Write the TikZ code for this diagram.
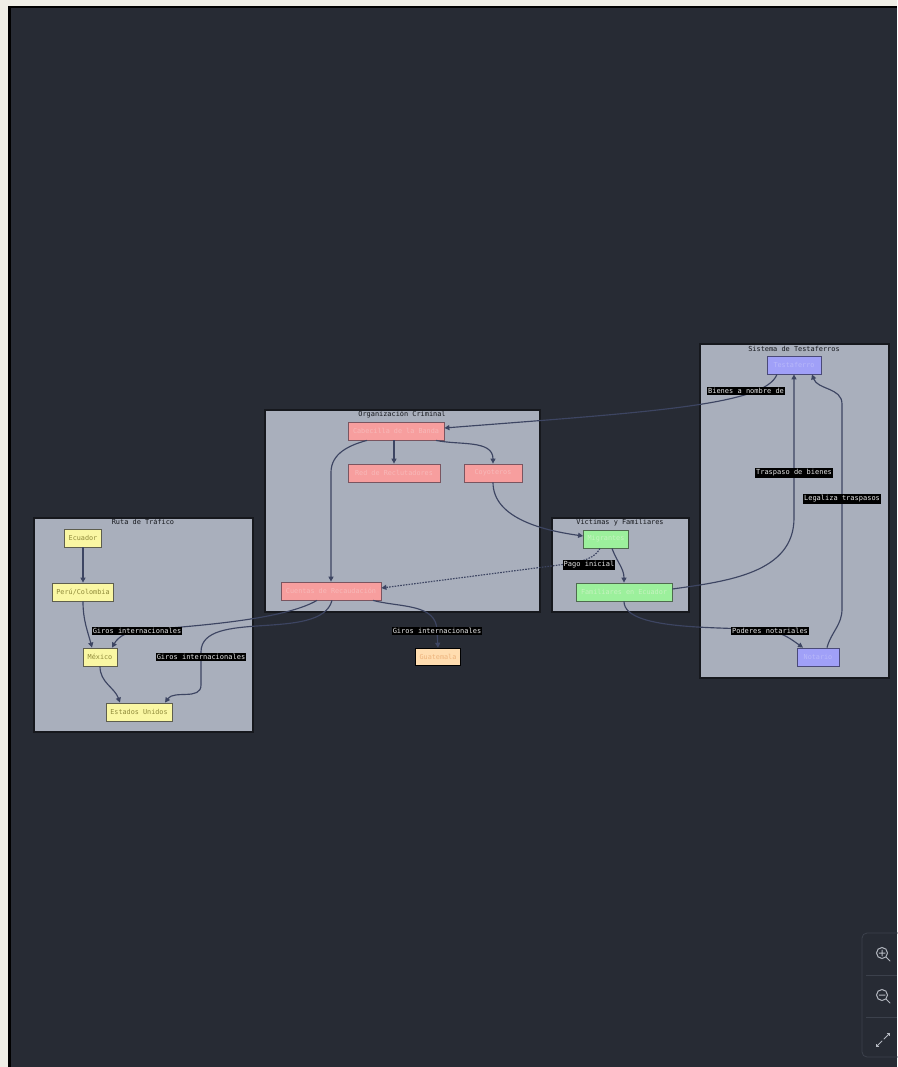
\documentclass[tikz,border=0pt]{standalone}
\usepackage{fontspec}
\setmonofont{DejaVu Sans Mono}
\usetikzlibrary{arrows.meta, positioning}
\definecolor{page-cream}{HTML}{EFEEE6}
\definecolor{canvas-bg}{HTML}{272B34}
\definecolor{cluster-fill}{HTML}{A9AFBC}
\definecolor{cluster-border}{HTML}{16181D}
\definecolor{crim-fill}{HTML}{F79E9E}
\definecolor{crim-border}{HTML}{7A5560}
\definecolor{crim-text}{HTML}{F8B9B9}
\definecolor{ruta-fill}{HTML}{FAF7A3}
\definecolor{ruta-border}{HTML}{5E5E4E}
\definecolor{ruta-text}{HTML}{8F8A3A}
\definecolor{vict-fill}{HTML}{9CF09C}
\definecolor{vict-border}{HTML}{4E6A4E}
\definecolor{vict-text}{HTML}{C6F3C0}
\definecolor{test-fill}{HTML}{A0A0F8}
\definecolor{test-border}{HTML}{4A4A78}
\definecolor{test-text}{HTML}{B8B8FA}
\definecolor{dest-fill}{HTML}{FFDDB0}
\definecolor{dest-text}{HTML}{EDB37C}
\definecolor{edge}{HTML}{3D4562}
\definecolor{label-text}{HTML}{E6E6E6}
\definecolor{ui-line}{HTML}{3C414C}
\definecolor{ui-icon}{HTML}{B4B8C0}
\tikzset{
  base-node/.style={
    rectangle, inner sep=0pt, minimum height=18pt, line width=0.8pt,
    font=\fontsize{6.8}{7}\ttfamily
  },
  crim-node/.style={base-node, draw=crim-border, fill=crim-fill, text=crim-text},
  ruta-node/.style={base-node, draw=ruta-border, fill=ruta-fill, text=ruta-text},
  vict-node/.style={base-node, draw=vict-border, fill=vict-fill, text=vict-text},
  test-node/.style={base-node, draw=test-border, fill=test-fill, text=test-text},
  dest-node/.style={base-node, draw=black, line width=1.4pt, fill=dest-fill, text=dest-text},
  cluster-box/.style={draw=cluster-border, fill=cluster-fill, line width=1.6pt},
  cluster-title/.style={font=\fontsize{6.9}{7}\ttfamily, text=cluster-border, inner sep=0pt},
  flow-edge/.style={-{Triangle[length=5pt, width=5pt]}, line width=1.15pt, draw=edge},
  flow-dashed/.style={flow-edge, dash pattern=on 1.6pt off 1.2pt},
  edge-label/.style={fill=black, text=label-text, inner xsep=1pt, inner ysep=1.2pt,
    font=\fontsize{7}{7}\ttfamily},
  ui-stroke/.style={draw=ui-icon, line width=1pt, line cap=round}
}
\begin{document}
\begin{tikzpicture}[x=1pt, y=1pt]
  % frame and canvas
  \fill[page-cream] (0,0) rectangle (897,-1067);
  \fill[black] (8,-6) rectangle (897,-1067);
  \fill[canvas-bg] (11,-8) rectangle (897,-1067);
  \useasboundingbox (0,0) rectangle (897,-1067);

  % subgraphs
  \draw[cluster-box] (265,-410) rectangle (540,-612);
  \node[cluster-title] at (402,-414) {Organización Criminal};
  \draw[cluster-box] (34,-518) rectangle (253,-732);
  \node[cluster-title] at (143,-522) {Ruta de Tráfico};
  \draw[cluster-box] (552,-518) rectangle (689,-612);
  \node[cluster-title] at (620,-522) {Víctimas y Familiares};
  \draw[cluster-box] (700,-344) rectangle (889,-678);
  \node[cluster-title] at (794,-349) {Sistema de Testaferros};

  % nodes
  \node[crim-node, minimum width=96pt]  (lider)   at (396,-431) {Cabecilla de la Banda};
  \node[crim-node, minimum width=92pt]  (red)     at (394,-473) {Red de Reclutadores};
  \node[crim-node, minimum width=58pt]  (coyo)    at (493,-473) {Coyoteros};
  \node[crim-node, minimum width=100pt] (cuentas) at (331,-591) {Cuentas de Recaudación};

  \node[ruta-node, minimum width=37pt] (ecuador) at (83,-538)  {Ecuador};
  \node[ruta-node, minimum width=61pt] (peru)    at (83,-592)  {Perú/Colombia};
  \node[ruta-node, minimum width=34pt] (mexico)  at (100,-657) {México};
  \node[ruta-node, minimum width=66pt] (eeuu)    at (139,-712) {Estados Unidos};

  \node[vict-node, minimum width=45pt] (migr)  at (606,-539) {Migrantes};
  \node[vict-node, minimum width=96pt] (fam)   at (624,-592) {Familiares en Ecuador};

  \node[test-node, minimum width=54pt] (testa) at (794,-365) {Testaferro};
  \node[test-node, minimum width=42pt] (notar) at (818,-657) {Notario};

  \node[dest-node, minimum width=45pt, minimum height=17pt] (guate) at (438,-657) {Guatemala};

  % label anchors
  \coordinate (bienes)   at (746,-391);
  \coordinate (traspaso) at (794,-473);
  \coordinate (legaliza) at (842,-499);
  \coordinate (poderes)  at (770,-631);
  \coordinate (pago)     at (589,-565);
  \coordinate (girosMx)  at (137,-631);
  \coordinate (girosUs)  at (201,-657);
  \coordinate (girosGt)  at (437,-631);

  % edges
  \draw[flow-edge] ([xshift=-2pt]lider.south) -- (red.north);
  \draw[flow-edge] ([xshift=40pt]lider.south) to[out=-12, in=90] (coyo.north);
  \draw[flow-edge] ([xshift=-29pt]lider.south) to[out=195, in=90]
    ([yshift=-32pt]cuentas.north |- lider.south) -- (cuentas.north);
  \draw[flow-edge] (coyo.south) to[out=-90, in=172, looseness=0.9] ([yshift=3pt]migr.west);
  \draw[flow-dashed] ([xshift=-6pt]migr.south) to[out=-115, in=8, looseness=0.8] ([xshift=-30pt]pago)
    -- ([yshift=3pt]cuentas.east);
  \draw[flow-edge] ([xshift=6pt]migr.south) to[out=-70, in=90] (fam.north);

  \draw[flow-edge] ([yshift=3pt]fam.east) to[out=8, in=-90] ([yshift=-45pt]traspaso)
    -- (traspaso) -- (testa.south);
  \draw[flow-edge] ([xshift=-17pt]testa.south) .. controls +(-12,-31) and +(205,16) .. ([yshift=3pt]lider.east);
  \draw[flow-edge] (fam.south) to[out=-90, in=170, looseness=0.55] (poderes)
    to[out=-10, in=145] ([xshift=-15pt]notar.north);
  \draw[flow-edge] ([xshift=9pt]notar.north) to[out=75, in=-90] ([yshift=-110pt]legaliza)
    -- (legaliza) -- ([yshift=95pt]legaliza) to[out=90, in=-70] ([xshift=18pt]testa.south);

  \draw[flow-edge] ([xshift=-14pt]cuentas.south) to[out=-150, in=6, looseness=0.6] (girosMx)
    to[out=186, in=60] ([xshift=12pt]mexico.north);
  \draw[flow-edge] ([xshift=1pt]cuentas.south) to[out=-105, in=90, looseness=0.8] ([yshift=5pt]girosUs)
    -- (girosUs) -- ([yshift=-28pt]girosUs) to[out=-90, in=55] ([xshift=26pt]eeuu.north);
  \draw[flow-edge] ([xshift=42pt]cuentas.south) to[out=-15, in=90] (girosGt) -- (guate.north);

  \draw[flow-edge] (ecuador.south) -- (peru.north);
  \draw[flow-edge] (peru.south) to[out=-90, in=105] ([xshift=-8pt]mexico.north);
  \draw[flow-edge] (mexico.south) to[out=-90, in=110] ([xshift=-19pt]eeuu.north);

  % edge labels
  \node[edge-label] at (bienes)   {Bienes a nombre de};
  \node[edge-label] at (traspaso) {Traspaso de bienes};
  \node[edge-label] at (legaliza) {Legaliza traspasos};
  \node[edge-label] at (poderes)  {Poderes notariales};
  \node[edge-label] at (pago)     {Pago inicial};
  \node[edge-label] at (girosMx)  {Giros internacionales};
  \node[edge-label] at (girosUs)  {Giros internacionales};
  \node[edge-label] at (girosGt)  {Giros internacionales};

  % zoom controls
  \draw[ui-line, line width=0.8pt, rounded corners=5pt] (862,-933) rectangle (910,-1057);
  \draw[ui-line, line width=0.8pt] (866,-975) -- (897,-975) (866,-1017) -- (897,-1017);
  \draw[ui-stroke] (882,-953) circle (5.5pt) (886,-957) -- (890,-961)
    (879,-953) -- (885,-953) (882,-950) -- (882,-956);
  \draw[ui-stroke] (882,-995) circle (5.5pt) (886,-999) -- (890,-1003)
    (879,-995) -- (885,-995);
  \draw[ui-stroke, -{Straight Barb[length=2pt]}] (882,-1041) -- (876,-1047);
  \draw[ui-stroke, -{Straight Barb[length=2pt]}] (884,-1039) -- (890,-1033);
\end{tikzpicture}
\end{document}
